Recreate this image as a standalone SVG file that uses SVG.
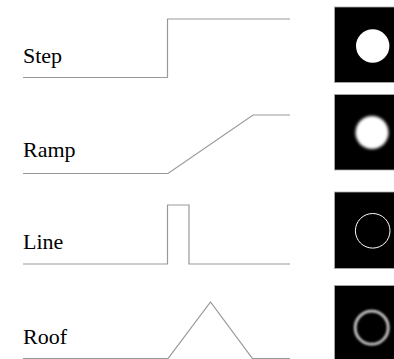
<svg xmlns="http://www.w3.org/2000/svg" width="394" height="359" viewBox="0 0 394 359">
<style>
.lbl{font-family:"Liberation Serif","Times New Roman",serif;font-size:22px;fill:#000}
.prof{fill:none;stroke:#999;stroke-width:1.2}
.box{fill:#000;stroke:#aaa;stroke-width:0.8}
</style>
<defs>
<filter id="b1" x="-50%" y="-50%" width="200%" height="200%"><feGaussianBlur stdDeviation="1.6"/></filter>
<filter id="b2" x="-50%" y="-50%" width="200%" height="200%"><feGaussianBlur stdDeviation="0.9"/></filter>
</defs>
<rect width="394" height="359" fill="#fff"/>
<g id="step">
<text class="lbl" x="23" y="62.5">Step</text>
<polyline class="prof" points="23,77.5 167.5,77.5 167.5,19 290,19"/>
<rect class="box" x="334.5" y="7" width="61" height="75.5"/>
<circle cx="372.7" cy="46" r="16.7" fill="#fff"/>
</g>
<g id="ramp">
<text class="lbl" x="23" y="157">Ramp</text>
<polyline class="prof" points="23,173.5 168,173.5 253,115 290,115"/>
<rect class="box" x="334.5" y="94.5" width="61" height="75.5"/>
<circle cx="372" cy="132.5" r="16.5" fill="#fff" filter="url(#b1)"/>
</g>
<g id="line">
<text class="lbl" x="23" y="249">Line</text>
<polyline class="prof" points="23,264 167.5,264 167.5,205 189,205 189,264 290,264"/>
<rect class="box" x="334.5" y="192" width="61" height="76.5"/>
<circle cx="372.7" cy="230.8" r="17.3" fill="none" stroke="#fff" stroke-width="1"/>
</g>
<g id="roof">
<text class="lbl" x="23" y="344">Roof</text>
<polyline class="prof" points="23,358.6 168,358.6 210.5,302 252.5,358.6 290,358.6"/>
<rect class="box" x="334.5" y="285.5" width="61" height="76"/>
<circle cx="371.7" cy="327.7" r="16.5" fill="none" stroke="#ccc" stroke-width="2.8" filter="url(#b2)"/>
</g>
</svg>
